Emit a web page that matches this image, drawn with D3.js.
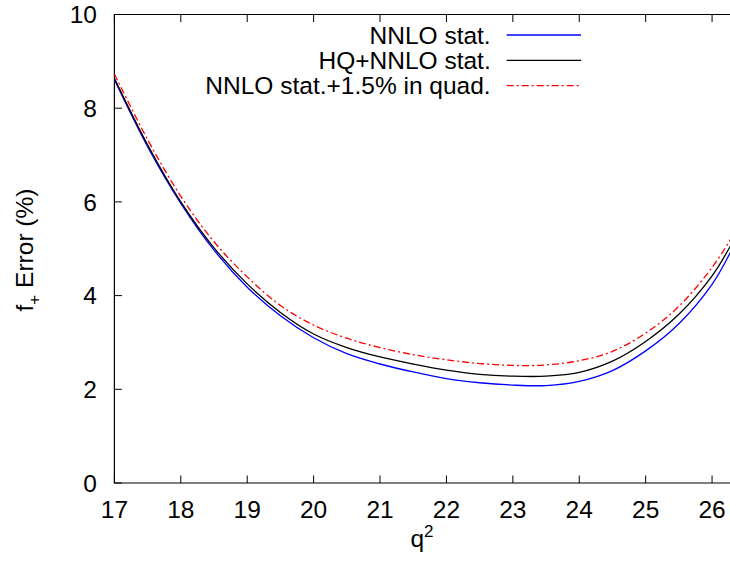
<!DOCTYPE html>
<html>
<head>
<meta charset="utf-8">
<script src="https://cdn.jsdelivr.net/npm/d3@7"></script>
<style>
  body { margin: 0; background: #fff; }
  svg text { font-family: "Liberation Sans", Arial, sans-serif; }
</style>
</head>
<body>
<div id="chart"></div>
<script>
// q^2 sample points and the three error curves (%)
var q2 = [17, 17.5, 18, 18.5, 19, 19.5, 20, 20.5, 21, 21.5, 22, 22.5, 23, 23.5, 24, 24.5, 25, 25.5, 26, 26.3];
var nnloStat = [8.61, 7.18, 5.97, 4.97, 4.18, 3.57, 3.10, 2.76, 2.54, 2.37, 2.23, 2.14, 2.09, 2.08, 2.17, 2.40, 2.82, 3.40, 4.24, 4.99];
var hqNnloStat = [8.64, 7.22, 6.00, 5.02, 4.25, 3.64, 3.18, 2.89, 2.69, 2.54, 2.41, 2.32, 2.28, 2.28, 2.36, 2.60, 3.02, 3.60, 4.42, 5.12];
var nnloQuad = [8.73, 7.33, 6.12, 5.15, 4.40, 3.79, 3.37, 3.09, 2.89, 2.74, 2.63, 2.55, 2.51, 2.52, 2.61, 2.81, 3.20, 3.77, 4.60, 5.25];

var seriesNames = ["NNLO stat.", "HQ+NNLO stat.", "NNLO stat.+1.5% in quad."];
var seriesColors = ["#0000ff", "#000000", "#ff0000"];
var seriesDash = [null, null, "7,3,2,3"];
var xTicks = [17, 18, 19, 20, 21, 22, 23, 24, 25, 26];
var yTicks = [0, 2, 4, 6, 8, 10];

var W = 730, H = 561;
var pL = 114.4, pR = 730, pT = 14.5, pB = 483;

var svg = d3.select("#chart").append("svg")
    .attr("width", W).attr("height", H);

var x = d3.scaleLinear().domain([17, 26.27]).range([pL, pR]);
var y = d3.scaleLinear().domain([0, 10]).range([pB, pT]);

svg.append("clipPath").attr("id", "plotclip")
  .append("rect").attr("x", pL).attr("y", pT)
  .attr("width", pR - pL).attr("height", pB - pT);

var fs = "24.5px";

// frame
svg.append("path")
    .attr("d", "M" + pR + "," + pT + "H" + pL + "V" + pB + "H" + pR)
    .attr("fill", "none").attr("stroke", "#000").attr("stroke-width", 1.2);

// ticks (inward, mirrored on top)
var tickLen = 7.5;
xTicks.forEach(function(t) {
    svg.append("line").attr("x1", x(t)).attr("x2", x(t))
        .attr("y1", pB).attr("y2", pB - tickLen)
        .attr("stroke", "#000").attr("stroke-width", 1);
    svg.append("line").attr("x1", x(t)).attr("x2", x(t))
        .attr("y1", pT).attr("y2", pT + tickLen)
        .attr("stroke", "#000").attr("stroke-width", 1);
    svg.append("text").attr("x", x(t)).attr("y", 517.5)
        .attr("text-anchor", "middle").attr("font-size", fs)
        .text(t);
});
yTicks.forEach(function(t) {
    svg.append("line").attr("x1", pL).attr("x2", pL + tickLen)
        .attr("y1", y(t)).attr("y2", y(t))
        .attr("stroke", "#000").attr("stroke-width", 1);
    svg.append("text").attr("x", 97).attr("y", y(t) + 8.7)
        .attr("text-anchor", "end").attr("font-size", fs)
        .text(t);
});

// axis labels
var yl = svg.append("text")
    .attr("transform", "translate(32.5," + 250 + ") rotate(-90)")
    .attr("text-anchor", "middle").attr("font-size", fs);
yl.append("tspan").text("f");
yl.append("tspan").attr("dy", 7).attr("font-size", "17px").text("+");
yl.append("tspan").attr("dy", -7).text(" Error (%)");

var xl = svg.append("text")
    .attr("x", 422).attr("y", 547)
    .attr("text-anchor", "middle").attr("font-size", fs);
xl.append("tspan").text("q");
xl.append("tspan").attr("dy", -10).attr("font-size", "17px").text("2");

// curves
var allSeries = [nnloStat, hqNnloStat, nnloQuad];
var line = d3.line()
    .x(function(d, i) { return x(q2[i]); })
    .y(function(d) { return y(d); })
    .curve(d3.curveCatmullRom.alpha(0.5));

var g = svg.append("g").attr("clip-path", "url(#plotclip)");
allSeries.forEach(function(s, k) {
    g.append("path").datum(s)
        .attr("d", line)
        .attr("fill", "none")
        .attr("stroke", seriesColors[k])
        .attr("stroke-width", 1.3)
        .attr("stroke-dasharray", seriesDash[k]);
});

// legend
seriesNames.forEach(function(n, k) {
    var ly = 35 + k * 25.3;
    svg.append("text").attr("x", 490.7).attr("y", ly + 8.5)
        .attr("text-anchor", "end").attr("font-size", fs).text(n);
    svg.append("line").attr("x1", 506.7).attr("x2", 581)
        .attr("y1", ly).attr("y2", ly)
        .attr("stroke", seriesColors[k]).attr("stroke-width", 1.3)
        .attr("stroke-dasharray", seriesDash[k]);
});
</script>
</body>
</html>
